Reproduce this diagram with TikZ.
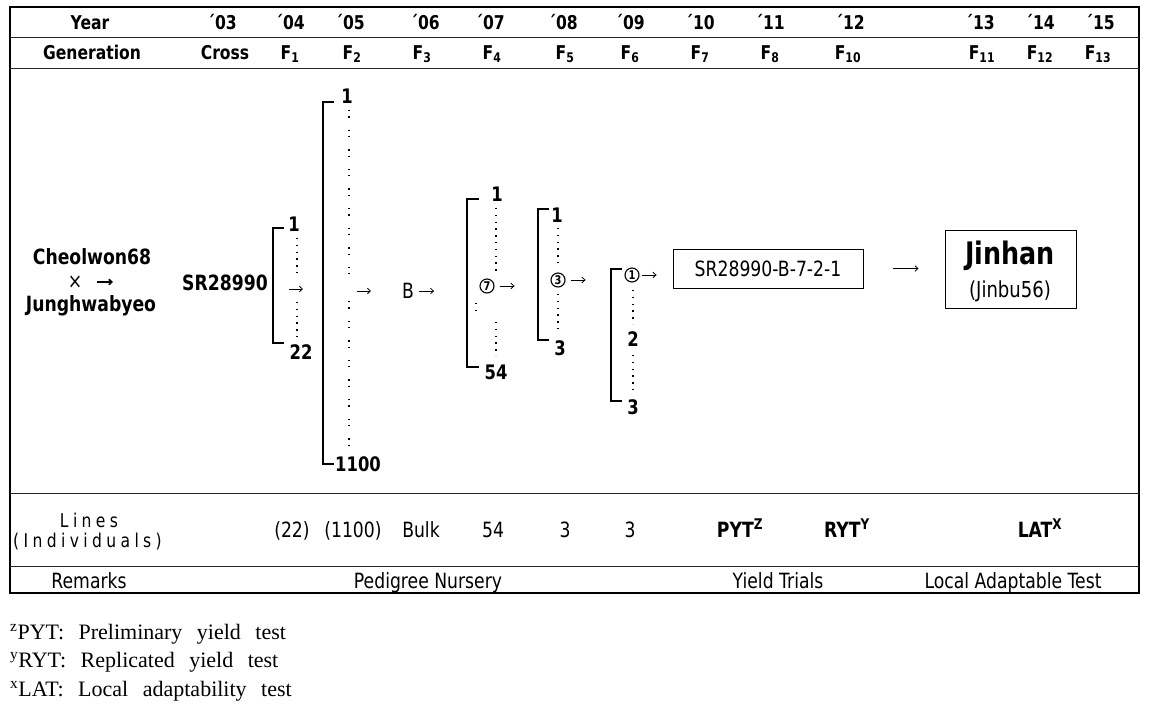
\documentclass[tikz,border=0pt]{standalone}
\usepackage{fontspec}
\setmainfont[FakeStretch=0.82]{DejaVu Sans}
\newfontfamily\tnr{Liberation Serif}
\usetikzlibrary{arrows.meta}
\begin{document}
\begin{tikzpicture}[x=1pt,y=-1pt,
  hd/.style={font=\fontsize{19}{20}\selectfont\bfseries, inner sep=0pt, anchor=base},
  lb/.style={font=\fontsize{21}{22}\selectfont\bfseries, inner sep=0pt},
  nb/.style={font=\fontsize{20}{22}\selectfont\bfseries, inner sep=0pt},
  rg/.style={font=\fontsize{21}{22}\selectfont, inner sep=0pt, anchor=base},
  rule/.style={line width=1pt, black!85},
  brk/.style={line width=1.1pt},
  dotcol/.style={line width=1.3pt, dash pattern=on 1.3pt off 5.5pt},
  dotpair/.style={line width=1.3pt, dash pattern=on 1.3pt off 5pt on 1.3pt off 12pt},
  arr/.style={-{Straight Barb[length=3pt,width=5.5pt]}, line width=0.8pt},
  circ/.style={draw, circle, line width=1.1pt, inner sep=0pt, minimum size=14pt, font=\fontsize{12}{12}\selectfont\bfseries},
  boxed/.style={draw, line width=1pt, inner sep=0pt},
  fn/.style={font=\tnr\fontsize{22}{24}\selectfont, inner sep=0pt, anchor=base west}
]
\useasboundingbox (0,0) rectangle (1149,713);
% frame and rules
\draw[line width=1.4pt] (10,7) rectangle (1139,593);
\draw[rule] (10,37) -- (1139,37);
\draw[rule] (10,68) -- (1139,68);
\draw[rule] (10,493) -- (1139,493);
\draw[rule] (10,566) -- (1139,566);
% header: year
\node[hd] (y0) at (90,29) {Year};
\foreach \x/\t [count=\i] in {222/03,290/04,350/05,425/06,490/07,563/08,630/09,700/10,770/11,850/12,980/13,1040/14,1100/15}
  \node[hd] (y\i) at (\x,29) {´\t};
% header: generation
\node[hd] (g0) at (92,59) {Generation};
\node[hd] (g1) at (225,59) {Cross};
\foreach \x/\t [count=\i from 2] in {290/1,352/2,422/3,492/4,565/5,630/6,700/7,770/8,848/10,982/11,1040/12,1098/13}
  \node[hd] (g\i) at (\x,59) {F\textsubscript{\t}};
% cross
\node[lb] (p1) at (92,257) {Cheolwon68};
\node[inner sep=0pt, font=\fontsize{21}{22}\selectfont] (px) at (75,282) {×};
\coordinate (xa1) at (97,282);
\coordinate (xa2) at (113,282);
\draw[arr, line width=1.6pt] (xa1) -- (xa2);
\node[lb] (p2) at (91,306) {Junghwabyeo};
\node[lb] (sr) at (225,283) {SR28990};
% F1 bracket
\coordinate (b1t) at (284,228);
\coordinate (b1b) at (284,343);
\draw[brk] (b1t) -| (273,285) |- (b1b);
\node[nb] (n11) at (294,224) {1};
\node[nb] (n12) at (301,352) {22};
\coordinate (a1s) at (289,289);
\coordinate (a1e) at (303,289);
\draw[arr] (a1s) -- (a1e);
\draw[dotcol] (297,238) -- (297,276);
\draw[dotcol] (297,302) -- (297,338);
% F2 bracket
\coordinate (b2t) at (334,102);
\coordinate (b2b) at (334,464);
\draw[brk] (b2t) -| (323,285) |- (b2b);
\node[nb] (n21) at (347,96) {1};
\node[nb] (n22) at (358,464) {1100};
\draw[dotpair] (349,110) -- (349,278);
\draw[dotpair] (349,301) -- (349,455);
\coordinate (a2s) at (357,291);
\coordinate (a2e) at (371,291);
\draw[arr] (a2s) -- (a2e);
% F3 bulk
\node[inner sep=0pt, font=\fontsize{21}{22}\selectfont] (bk) at (408,291) {B};
\draw[arr] (bk.east) ++(5,0) coordinate (a3s) -- ++(15,0) coordinate (a3e);
% F4 bracket
\coordinate (b3t) at (479,199);
\coordinate (b3b) at (479,367);
\draw[brk] (b3t) -| (467,285) |- (b3b);
\node[nb] (n31) at (497,194) {1};
\draw[dotcol] (496,208) -- (496,272);
\node[circ] (c7) at (487,286) {7};
\draw[arr] (c7.east) ++(5,0) coordinate (a4s) -- ++(15,0) coordinate (a4e);
\draw[dotcol] (476,303) -- (476,314);
\draw[dotcol] (496,322) -- (496,356);
\node[nb] (n32) at (496,372) {54};
% F5 bracket
\coordinate (b4t) at (549,209);
\coordinate (b4b) at (549,340);
\draw[brk] (b4t) -| (538,280) |- (b4b);
\node[nb] (n41) at (557,215) {1};
\draw[dotcol] (558,228) -- (558,268);
\node[circ] (c3) at (558,280) {3};
\draw[arr] (c3.east) ++(5,0) coordinate (a5s) -- ++(15,0) coordinate (a5e);
\draw[dotcol] (558,294) -- (558,332);
\node[nb] (n42) at (560,348) {3};
% F6 bracket
\coordinate (b5t) at (622,269);
\coordinate (b5b) at (622,401);
\draw[brk] (b5t) -| (611,330) |- (b5b);
\node[circ] (c1) at (632,275) {1};
\draw[arr] (c1.east) ++(2,0) coordinate (a6s) -- ++(15,0) coordinate (a6e);
\draw[dotcol] (633,290) -- (633,324);
\node[nb] (n52) at (633,339) {2};
\draw[dotcol] (633,355) -- (633,392);
\node[nb] (n53) at (633,407) {3};
% selected line and cultivar
\node[boxed, minimum width=190pt, minimum height=39pt, font=\fontsize{21}{22}\selectfont] (line) at (768,268.5) {SR28990-B-7-2-1};
\node[boxed, minimum width=131pt, minimum height=78pt] (jb) at (1010.5,269) {};
\draw[arr] (line.east) ++(29,0) coordinate (a7s) -- ++(26,0) coordinate (a7e);
\node[font=\fontsize{31}{32}\selectfont\bfseries, inner sep=0pt] (jin) at (1010,256) {Jinhan};
\node[font=\fontsize{22}{22}\selectfont, inner sep=0pt] (jin2) at (1010,291) {(Jinbu56)};
% lines row
\node[rg, font=\fontsize{19}{20}\selectfont\addfontfeature{LetterSpace=23}] (l1) at (89,527) {Lines};
\node[rg, font=\fontsize{19}{20}\selectfont\addfontfeature{LetterSpace=23}, anchor=base west] (l2) at (13,547) {(Individuals)};
\node[rg] (v1) at (292,537) {(22)};
\node[rg] (v2) at (353,537) {(1100)};
\node[rg] (v3) at (421,537) {Bulk};
\node[rg] (v4) at (493,537) {54};
\node[rg] (v5) at (565,537) {3};
\node[rg] (v6) at (630,537) {3};
\node[lb, anchor=base] (v7) at (740,537) {PYT\textsuperscript{Z}};
\node[lb, anchor=base] (v8) at (847,537) {RYT\textsuperscript{Y}};
\node[lb, anchor=base] (v9) at (1040,537) {LAT\textsuperscript{X}};
% remarks row
\node[rg] (r1) at (89,588) {Remarks};
\node[rg] (r2) at (428,588) {Pedigree Nursery};
\node[rg] (r3) at (778,588) {Yield Trials};
\node[rg] (r4) at (1013,588) {Local Adaptable Test};
% footnotes
\node[fn] (f1) at (10,639) {\textsuperscript{z}PYT:\hspace{9pt} Preliminary\hspace{9pt} yield\hspace{9pt} test};
\node[fn] (f2) at (10,667) {\textsuperscript{y}RYT:\hspace{9pt} Replicated\hspace{9pt} yield\hspace{9pt} test};
\node[fn] (f3) at (10,696) {\textsuperscript{x}LAT:\hspace{9pt} Local\hspace{9pt} adaptability\hspace{9pt} test};
\end{tikzpicture}
\end{document}
